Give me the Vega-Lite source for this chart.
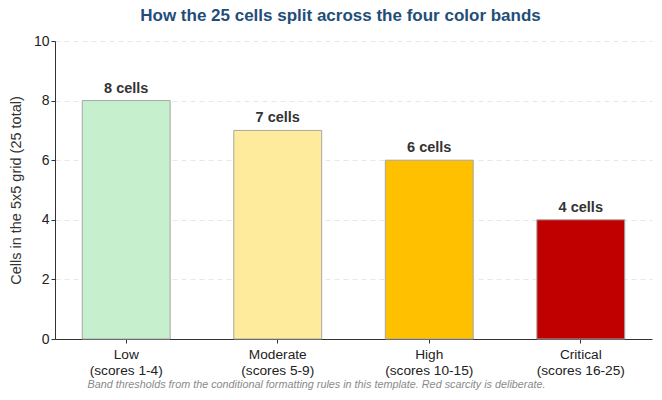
{
  "$schema": "https://vega.github.io/schema/vega-lite/v6.json",
  "width": 597,
  "height": 298,
  "autosize": {"type": "none"},
  "padding": {"left": 55, "top": 41, "right": 10, "bottom": 61},
  "background": "white",
  "config": {
    "font": "Liberation Sans",
    "view": {"stroke": null}
  },
  "title": {
    "text": "How the 25 cells split across the four color bands",
    "fontSize": 17,
    "fontWeight": "bold",
    "color": "#1f4e79",
    "anchor": "middle",
    "dx": -13,
    "offset": 9
  },
  "data": {
    "values": [
      {"band": "Low\n(scores 1-4)", "cells": 8, "label": "8 cells", "color": "#c6efce"},
      {"band": "Moderate\n(scores 5-9)", "cells": 7, "label": "7 cells", "color": "#ffeb9c"},
      {"band": "High\n(scores 10-15)", "cells": 6, "label": "6 cells", "color": "#ffc000"},
      {"band": "Critical\n(scores 16-25)", "cells": 4, "label": "4 cells", "color": "#c00000"}
    ]
  },
  "encoding": {
    "x": {
      "field": "band",
      "type": "nominal",
      "sort": null,
      "scale": {"paddingInner": 0.42, "paddingOuter": 0.18},
      "axis": {
        "labelAngle": 0,
        "labelExpr": "split(datum.label, '\\n')",
        "labelFontSize": 13.7,
        "labelColor": "#222",
        "labelLineHeight": 16,
        "labelPadding": 4,
        "tickColor": "#333",
        "tickSize": 4,
        "domainColor": "#333",
        "title": "Band thresholds from the conditional formatting rules in this template. Red scarcity is deliberate.",
        "titleFontSize": 10.8,
        "titleFontStyle": "italic",
        "titleFontWeight": "normal",
        "titleColor": "#8a8a8a",
        "titlePadding": 2,
        "titleX": 261
      }
    },
    "y": {
      "field": "cells",
      "type": "quantitative",
      "scale": {"domain": [0, 10]},
      "axis": {
        "values": [0, 2, 4, 6, 8, 10],
        "labelFontSize": 14,
        "labelColor": "#222",
        "tickColor": "#333",
        "tickSize": 4,
        "domainColor": "#333",
        "grid": true,
        "gridColor": "#dde3ea",
        "gridDash": [5, 4],
        "gridOpacity": 0.8,
        "title": "Cells in the 5x5 grid (25 total)",
        "titleFontSize": 14.5,
        "titleFontWeight": "normal",
        "titleColor": "#333",
        "titlePadding": 10
      }
    }
  },
  "layer": [
    {
      "mark": {"type": "bar", "stroke": "#a6a6a6", "strokeWidth": 1},
      "encoding": {
        "color": {"field": "color", "type": "nominal", "scale": null}
      }
    },
    {
      "mark": {"type": "text", "baseline": "bottom", "dy": -5, "fontSize": 14.5, "fontWeight": "bold", "color": "#333"},
      "encoding": {
        "text": {"field": "label"}
      }
    }
  ]
}
